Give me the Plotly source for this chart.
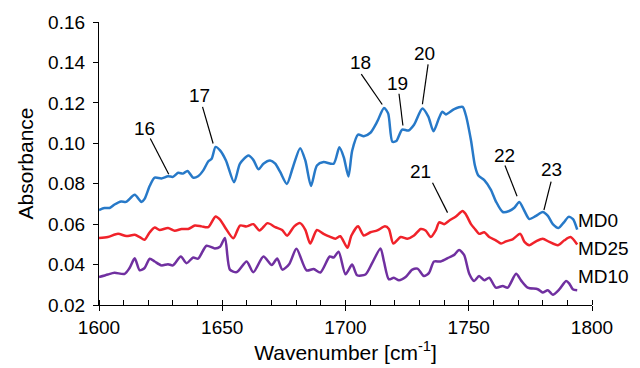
import plotly.graph_objects as go

# MD0 (blue)
md0_x = [1600, 1602.2, 1604.3, 1606.3, 1609, 1611, 1614.5, 1617.2, 1618.5, 1620.6, 1622.6, 1625.3, 1628, 1630,
         1632.1, 1634.1, 1635.9, 1638.2, 1640.2, 1642.3, 1644.3, 1645.7, 1647.3, 1649.1, 1651.5, 1654.8, 1657.2,
         1660.6, 1662.6, 1664.7, 1666.7, 1669.4, 1671.5, 1673.5, 1676.2, 1678.7, 1681.6, 1683.7, 1686, 1688.4,
         1691.1, 1695.2, 1697.5, 1699.3, 1701.2, 1702.7, 1705.1, 1707.4, 1710.1, 1712.9, 1715.6, 1717.3, 1719,
         1720.6, 1723, 1725.5, 1727.8, 1731.2, 1733.6, 1735.7, 1737.9, 1739.3, 1740.7, 1744.1, 1747.5, 1748.8,
         1750.9, 1752.5, 1753.8, 1756.3, 1759, 1761, 1763.8, 1766.4, 1768.5, 1770.5, 1772.6, 1774.6, 1777.3,
         1780, 1782.1, 1784.1, 1786.4, 1788.6, 1790.5, 1792.3, 1794]
md0_y = [0.067, 0.068, 0.068, 0.0697, 0.0712, 0.071, 0.0745, 0.071, 0.0725, 0.079, 0.083, 0.0826, 0.0837, 0.0834,
         0.0854, 0.085, 0.0863, 0.083, 0.0837, 0.0866, 0.091, 0.0923, 0.0982, 0.0965, 0.0915, 0.0807, 0.0899,
         0.0939, 0.0918, 0.0871, 0.0899, 0.0915, 0.0899, 0.0858, 0.0799, 0.0883, 0.0976, 0.0915, 0.0789, 0.089,
         0.0907, 0.0899, 0.098, 0.0931, 0.0836, 0.0963, 0.1043, 0.1035, 0.1052, 0.1108, 0.1175, 0.1148, 0.1008,
         0.1011, 0.1068, 0.1063, 0.1092, 0.1172, 0.1132, 0.1059, 0.1124, 0.1156, 0.1143, 0.1169, 0.118, 0.114,
         0.1015, 0.089, 0.0842, 0.0818, 0.077, 0.0713, 0.066, 0.0665, 0.0681, 0.071, 0.0665, 0.0625, 0.0641,
         0.066, 0.0641, 0.06, 0.0581, 0.0609, 0.0636, 0.0625, 0.0573]

# MD25 (red)
md25_x = [1600, 1603.6, 1607.7, 1611.1, 1614.5, 1616.5, 1618.5, 1620.6, 1622.6, 1624.6, 1628, 1630.7, 1633.5,
          1636.2, 1638.9, 1641.6, 1644.3, 1647.3, 1649.1, 1651.1, 1654.5, 1657.2, 1659.9, 1662.6, 1665.1, 1668.4,
          1671.5, 1674.3, 1676.3, 1679.2, 1681.6, 1683.7, 1685.7, 1688.4, 1691.1, 1693.6, 1695.9, 1697.9, 1700.8,
          1702.4, 1705.1, 1707.4, 1710.1, 1712.9, 1716, 1717.6, 1719.4, 1722.4, 1725.1, 1727.8, 1730.5, 1732.5,
          1734.6, 1736.6, 1738, 1740, 1742, 1744.8, 1747.5, 1748.8, 1750.9, 1752.5, 1754.2, 1756.3, 1758.3, 1761,
          1763.1, 1765.1, 1767.8, 1770.9, 1772.6, 1774.6, 1777.3, 1780, 1782.7, 1786.2, 1788.8, 1791.3, 1794]
md25_y = [0.0531, 0.0536, 0.0552, 0.0541, 0.0547, 0.0536, 0.0523, 0.056, 0.0583, 0.0571, 0.0581, 0.0567, 0.0576,
          0.0576, 0.0593, 0.0589, 0.0585, 0.0638, 0.0622, 0.0585, 0.053, 0.0593, 0.0589, 0.06, 0.0569, 0.0605,
          0.0585, 0.0571, 0.0543, 0.0589, 0.0605, 0.0572, 0.0504, 0.0571, 0.0552, 0.0538, 0.0528, 0.054, 0.0483,
          0.0544, 0.0589, 0.0544, 0.056, 0.0569, 0.0589, 0.0576, 0.0504, 0.0536, 0.0528, 0.0544, 0.0576, 0.0569,
          0.0536, 0.0569, 0.0609, 0.06, 0.0617, 0.0638, 0.0665, 0.0649, 0.06, 0.0576, 0.0552, 0.056, 0.0536, 0.052,
          0.0504, 0.0515, 0.0525, 0.0552, 0.0512, 0.0496, 0.0515, 0.0528, 0.0512, 0.0496, 0.052, 0.0536, 0.0499]

# MD10 (purple)
md10_x = [1600, 1603.6, 1606.3, 1610.4, 1612.4, 1614.5, 1616.5, 1618.5, 1620.6, 1622.6, 1625.3, 1628, 1630,
          1633.2, 1635.5, 1638.2, 1640.2, 1643.6, 1647, 1649.1, 1651.1, 1653.1, 1655.9, 1659.9, 1662.6, 1666.7,
          1670.1, 1672.3, 1674.4, 1677.2, 1680.1, 1684.2, 1687.1, 1689.8, 1693.6, 1695.2, 1697.2, 1700, 1702.7,
          1704.7, 1708.1, 1710.8, 1714.2, 1715.6, 1717.6, 1719.6, 1721.7, 1724.4, 1727.1, 1729.2, 1731.8, 1733.9,
          1735.9, 1738.6, 1742, 1744.1, 1746.1, 1748.1, 1750.2, 1752.2, 1754.2, 1756.3, 1758.3, 1761, 1763.8,
          1765.8, 1769.2, 1771.2, 1773.9, 1778, 1780, 1782.1, 1784.1, 1786.8, 1789.5, 1790.8, 1792.2, 1794]
md10_y = [0.0338, 0.0351, 0.0359, 0.0354, 0.0383, 0.0431, 0.0372, 0.0383, 0.0429, 0.0415, 0.0396, 0.0402, 0.0396,
          0.044, 0.0407, 0.0435, 0.0429, 0.0493, 0.048, 0.0488, 0.0532, 0.0375, 0.0363, 0.0415, 0.0362, 0.044,
          0.0398, 0.043, 0.0375, 0.0403, 0.0478, 0.0371, 0.0378, 0.0361, 0.044, 0.0435, 0.0464, 0.0352, 0.04,
          0.0347, 0.0351, 0.0407, 0.048, 0.0415, 0.0327, 0.0335, 0.0322, 0.0338, 0.0375, 0.038, 0.0343, 0.0359,
          0.0415, 0.0415, 0.0435, 0.0448, 0.0472, 0.0448, 0.0355, 0.0319, 0.0343, 0.0322, 0.0335, 0.0286, 0.0294,
          0.0286, 0.0354, 0.0322, 0.0286, 0.0278, 0.0262, 0.0273, 0.0251, 0.0278, 0.0319, 0.0306, 0.0278, 0.0273]

series_names = ["MD0", "MD25", "MD10"]
series_colors = ["#2779c8", "#f0222a", "#7030a0"]
series_label_y = [0.0618, 0.0478, 0.0343]

# peak labels with leader lines (data units)
peak_labels = ["16", "17", "18", "19", "20", "21", "22", "23"]
lab_text = [(1618.5, 0.1072), (1640.9, 0.1237), (1706.1, 0.1398), (1721.0, 0.1298), (1732.1, 0.1446),
            (1730.5, 0.0858), (1764.4, 0.0939), (1783.4, 0.0870)]
lab_from = [(1620.8, 0.1024), (1642.0, 0.1180), (1706.4, 0.1342), (1721.7, 0.1245), (1733.5, 0.1390),
            (1735.3, 0.0805), (1764.7, 0.0890), (1783.4, 0.0810)]
lab_to = [(1628.3, 0.0847), (1646.3, 0.0999), (1714.9, 0.1192), (1723.3, 0.1088), (1731.2, 0.1193),
          (1741.4, 0.0657), (1769.6, 0.0738), (1780.5, 0.0670)]

fig = go.Figure()
xs = [md0_x, md25_x, md10_x]
ys = [md0_y, md25_y, md10_y]
for name, c, x, y, ly in zip(series_names, series_colors, xs, ys, series_label_y):
    fig.add_trace(go.Scatter(x=x, y=y, mode="lines", name=name,
                             line=dict(color=c, width=2.5, shape="spline", smoothing=0.7),
                             showlegend=False))
    fig.add_annotation(x=x[-1], y=ly, text=name, showarrow=False, xanchor="left",
                       xshift=-1, font=dict(size=19, color="black"))

for lab, t, f, e in zip(peak_labels, lab_text, lab_from, lab_to):
    fig.add_annotation(x=t[0], y=t[1], text=lab, showarrow=False, font=dict(size=19, color="black"))
    fig.add_shape(type="line", x0=f[0], y0=f[1], x1=e[0], y1=e[1], line=dict(color="black", width=1.2))

fig.update_layout(
    width=640, height=368,
    margin=dict(l=99, r=48, t=15, b=63),
    paper_bgcolor="white", plot_bgcolor="white",
    font=dict(family="Liberation Sans, Arial, sans-serif", size=19, color="black"),
    showlegend=False,
)
fig.update_xaxes(range=[1600, 1800], tickvals=[1600, 1650, 1700, 1750, 1800],
                 showline=True, linecolor="black", linewidth=1.3, showgrid=False, zeroline=False,
                 ticks="outside", ticklen=5, tickcolor="black", tickwidth=1.3,
                 minor=dict(dtick=10, ticks="inside", ticklen=5, tickcolor="black", tickwidth=1.2, showgrid=False),
                 title=dict(text="Wavenumber [cm<sup>-1</sup>]", font=dict(size=21), standoff=0),
                 tickfont=dict(size=19))
fig.update_yaxes(range=[0.02, 0.16], dtick=0.02, tickformat=".2f",
                 showline=True, linecolor="black", linewidth=1.3, showgrid=False, zeroline=False,
                 ticks="outside", ticklen=5, tickcolor="black", tickwidth=1.3, ticklabelstandoff=4,
                 title=dict(text="Absorbance", font=dict(size=21), standoff=8),
                 tickfont=dict(size=19))

fig.write_html("out.html")
